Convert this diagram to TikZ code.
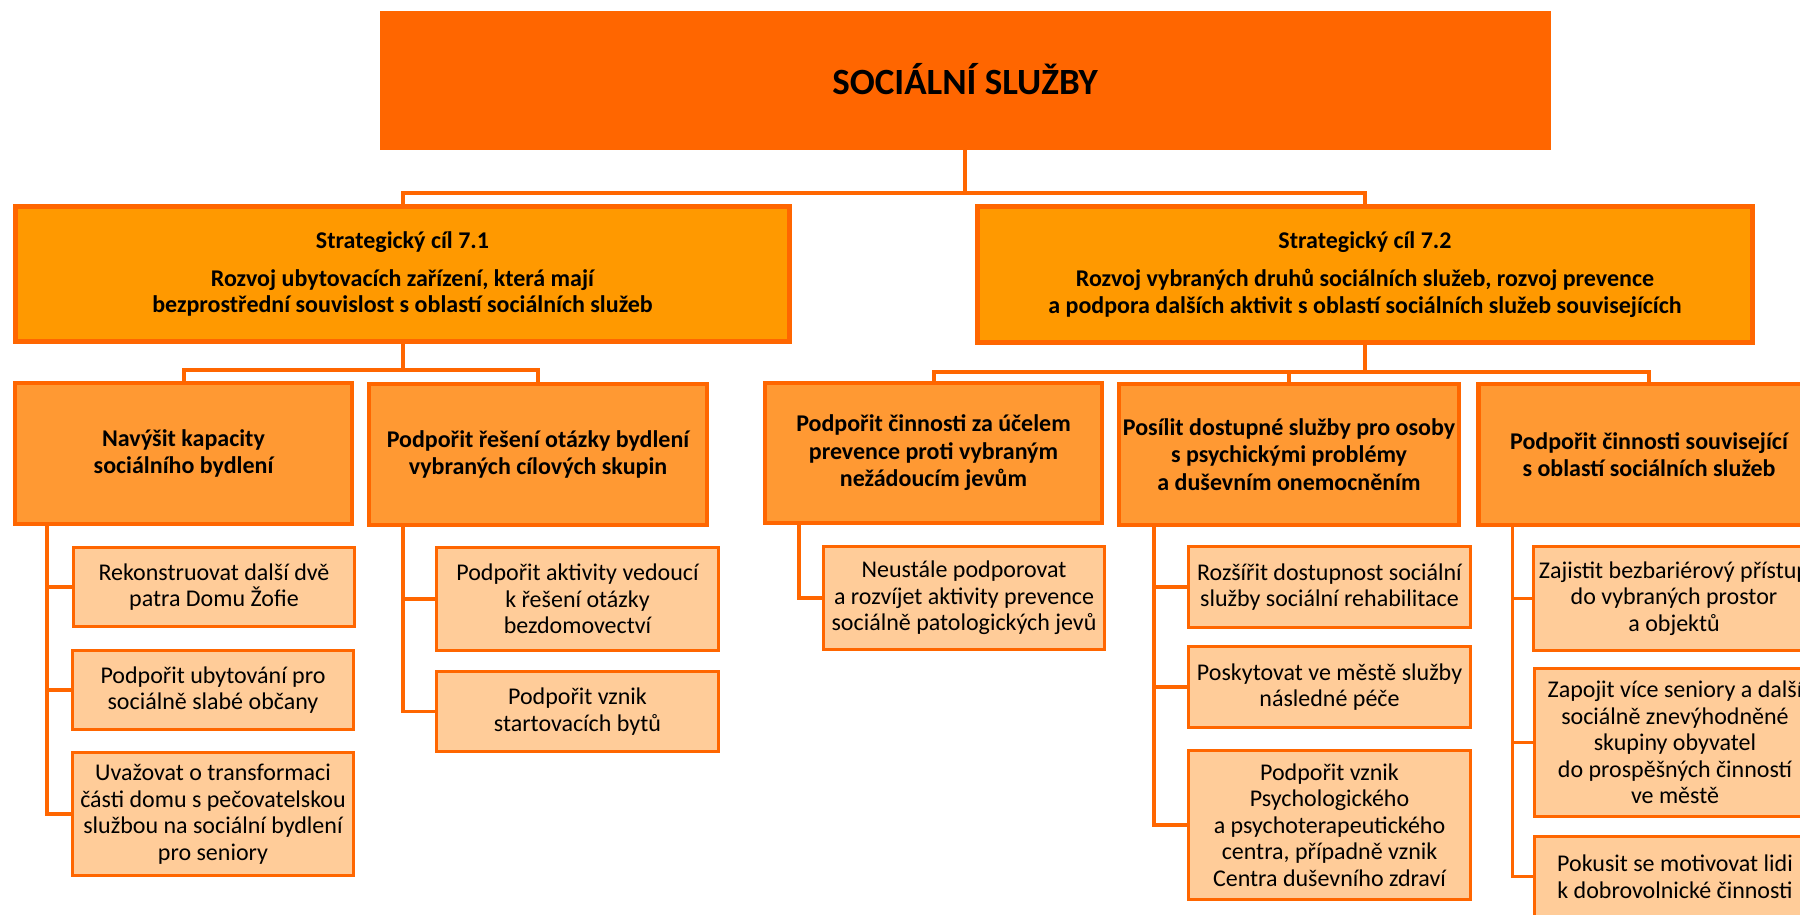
\documentclass[tikz,border=0pt]{standalone}
\usepackage{fontspec}
\setmainfont{Carlito}
\definecolor{orD}{HTML}{FF6600}
\definecolor{orM}{HTML}{FF9900}
\definecolor{orL}{HTML}{FF9933}
\definecolor{orP}{HTML}{FFCC99}
\tikzset{
  titlebox/.style={fill=orD, draw=orD, line width=1pt, inner sep=0pt, font=\bfseries\fontsize{37}{44}\selectfont},
  strat/.style={fill=orM, draw=orD, line width=5pt, align=center, inner sep=0pt, font=\bfseries\fontsize{24}{26.6}\selectfont},
  goal/.style={fill=orL, draw=orD, line width=4.5pt, align=center, inner sep=0pt, font=\bfseries\fontsize{24}{27.5}\selectfont},
  leaf/.style={fill=orP, draw=orD, line width=3.5pt, align=center, inner sep=0pt, font=\fontsize{24}{26.5}\selectfont},
  conn/.style={draw=orD, line width=4pt},
  lconn/.style={draw=orD, line width=3.5pt},
}
\begin{document}
\begin{tikzpicture}[x=1pt,y=-1pt]
\useasboundingbox (0,0) rectangle (1800,914);
\clip (0,0) rectangle (1800,914);
% top
\node[titlebox, minimum width=1170pt, minimum height=138pt] (top) at (965,80) {\raisebox{3pt}{SOCIÁLNÍ SLUŽBY}};
% strategic
\node[strat, minimum width=774pt, minimum height=135pt] (s1) at (402.5,274) {Strategický cíl 7.1\\[11pt]Rozvoj ubytovacích zařízení, která mají\\bezprostřední souvislost s oblastí sociálních služeb};
\node[strat, minimum width=775pt, minimum height=136pt] (s2) at (1365,274.5) {Strategický cíl 7.2\\[11pt]Rozvoj vybraných druhů sociálních služeb, rozvoj prevence\\a podpora dalších aktivit s oblastí sociálních služeb souvisejících};
% goals
\node[goal, minimum width=337pt, minimum height=141pt] (a) at (183.5,453.5) {Navýšit kapacity\\sociálního bydlení};
\node[goal, minimum width=338pt, minimum height=141pt] (b) at (538,454.5) {Podpořit řešení otázky bydlení\\vybraných cílových skupin};
\node[goal, minimum width=337pt, minimum height=140pt] (c) at (933.5,453) {Podpořit činnosti za účelem\\prevence proti vybraným\\nežádoucím jevům};
\node[goal, minimum width=340pt, minimum height=141pt] (d) at (1289,454.5) {Posílit dostupné služby pro osoby\\s psychickými problémy\\a duševním onemocněním};
\node[goal, minimum width=341pt, minimum height=141pt] (e) at (1649,454.5) {Podpořit činnosti související\\s oblastí sociálních služeb};
% leaves
\node[leaf, minimum width=281pt, minimum height=79pt] (a1) at (214,587) {Rekonstruovat další dvě\\patra Domu Žofie};
\node[leaf, minimum width=281pt, minimum height=79pt] (a2) at (213,690) {Podpořit ubytování pro\\sociálně slabé občany};
\node[leaf, minimum width=281pt, minimum height=123pt] (a3) at (213,814) {Uvažovat o transformaci\\části domu s pečovatelskou\\službou na sociální bydlení\\pro seniory};
\node[leaf, minimum width=282pt, minimum height=103pt] (b1) at (577.5,599) {Podpořit aktivity vedoucí\\k řešení otázky\\bezdomovectví};
\node[leaf, minimum width=282pt, minimum height=80pt] (b2) at (577.5,711.5) {Podpořit vznik\\startovacích bytů};
\node[leaf, minimum width=281pt, minimum height=103pt] (c1) at (964,598) {Neustále podporovat\\a rozvíjet aktivity prevence\\sociálně patologických jevů};
\node[leaf, minimum width=282pt, minimum height=81pt] (d1) at (1329.5,587) {Rozšířit dostupnost sociální\\služby sociální rehabilitace};
\node[leaf, minimum width=282pt, minimum height=81pt] (d2) at (1329.5,687) {Poskytovat ve městě služby\\následné péče};
\node[leaf, minimum width=282pt, minimum height=149pt] (d3) at (1329.5,825) {Podpořit vznik\\Psychologického\\a psychoterapeutického\\centra, případně vznik\\Centra duševního zdraví};
\node[leaf, minimum width=281pt, minimum height=104pt] (e1) at (1674,598.5) {Zajistit bezbariérový přístup\\do vybraných prostor\\a objektů};
\node[leaf, minimum width=281pt, minimum height=148pt] (e2) at (1675,742.5) {Zapojit více seniory a další\\sociálně znevýhodněné\\skupiny obyvatel\\do prospěšných činností\\ve městě};
\node[leaf, minimum width=281pt, minimum height=80pt] (e3) at (1675,876.5) {Pokusit se motivovat lidi\\k dobrovolnické činnosti};
% connectors top level
\coordinate (j0) at (965,193);
\draw[conn] (top.south) -- (j0) -| (s1.north);
\draw[conn] (j0) -| (s2.north);
\coordinate (j1) at (402.5,370);
\draw[conn] (s1.south) -- (j1) -| (a.north);
\draw[conn] (j1) -| (b.north);
\coordinate (j2) at (1365,372);
\draw[conn] (s2.south) -- (j2) -| (c.north);
\draw[conn] (j2) -| (d.north);
\draw[conn] (j2) -| (e.north);
% leaf connectors
\coordinate (ta) at ([xshift=34pt]a.south west);
\coordinate (tb) at ([xshift=36pt]b.south west);
\coordinate (tc) at ([xshift=36pt]c.south west);
\coordinate (td) at ([xshift=37pt]d.south west);
\coordinate (te) at ([xshift=36pt]e.south west);
\draw[lconn] (ta) |- (a3.west);
\draw[lconn] (ta) |- (a2.west);
\draw[lconn] (ta) |- (a1.west);
\draw[lconn] (tb) |- (b2.west);
\draw[lconn] (tb) |- (b1.west);
\draw[lconn] (tc) |- (c1.west);
\draw[lconn] (td) |- (d3.west);
\draw[lconn] (td) |- (d2.west);
\draw[lconn] (td) |- (d1.west);
\draw[lconn] (te) |- (e3.west);
\draw[lconn] (te) |- (e2.west);
\draw[lconn] (te) |- (e1.west);
\end{tikzpicture}
\end{document}
